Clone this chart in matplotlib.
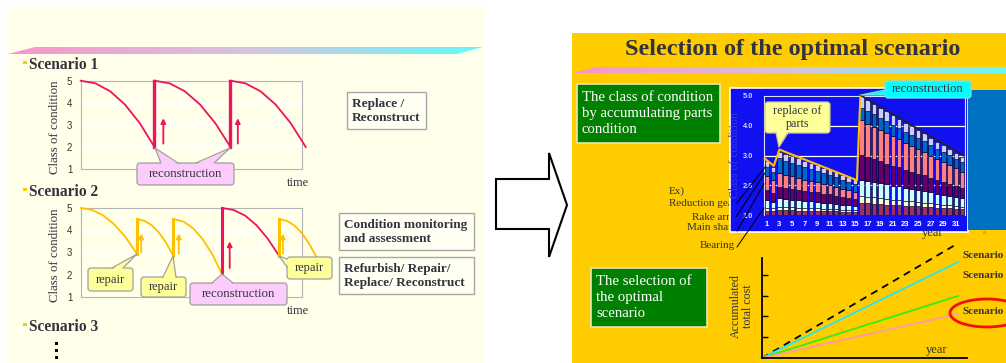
import matplotlib
matplotlib.use('Agg')
import matplotlib.pyplot as plt
import numpy as np
from matplotlib.patches import Rectangle, Polygon, FancyBboxPatch, Ellipse

W, H = 1006, 363
SERIF = ['Liberation Serif', 'DejaVu Serif']
SANS = ['Liberation Sans', 'DejaVu Sans']

# ---------------- data ----------------
# Scenario 1: class of condition over time, one list per deterioration cycle
s1_t1 = [0, 2, 4, 6, 8, 10]
s1_y1 = [5.0, 4.88, 4.52, 3.92, 3.08, 2.0]
s1_t2 = [10, 12.06, 14.12, 16.18, 18.24, 20.3]
s1_y2 = [5.0, 4.88, 4.52, 3.92, 3.08, 2.0]
s1_t3 = [20.3, 22.34, 24.38, 26.42, 28.46, 30.5]
s1_y3 = [5.0, 4.88, 4.52, 3.92, 3.08, 2.0]
s1_arrow_t = [11.2, 21.3]
s1_arrow_from = [2.15, 2.15]
s1_arrow_to = [3.3, 3.3]

# Scenario 2
s2_t1 = [0, 1.52, 3.04, 4.56, 6.08, 7.6]
s2_y1 = [5.0, 4.92, 4.67, 4.26, 3.69, 2.95]
s2_t2 = [7.6, 8.59, 9.58, 10.57, 11.56, 12.55]
s2_y2 = [4.5, 4.43, 4.24, 3.91, 3.45, 2.85]
s2_t3 = [12.55, 13.88, 15.21, 16.54, 17.87, 19.2]
s2_y3 = [4.5, 4.40, 4.10, 3.60, 2.90, 2.0]
s2_t4 = [19.2, 20.74, 22.28, 23.82, 25.36, 26.9]
s2_y4 = [5.0, 4.91, 4.66, 4.23, 3.62, 2.85]
s2_t5 = [26.9, 27.91, 28.92, 29.93, 30.94, 31.95]
s2_y5 = [4.5, 4.43, 4.23, 3.89, 3.41, 2.8]
s2_kind = ['repair', 'repair', 'repair', 'reconstruction', 'repair']
s2_arrow_t = [8.2, 13.3, 20.2, 27.4]
s2_arrow_from = [3.0, 2.95, 2.3, 2.95]
s2_arrow_to = [3.85, 3.85, 3.5, 3.85]
s2_arrow_kind = ['repair', 'repair', 'reconstruction', 'repair']

# Stacked parts condition per year (stack starts at class 1.0)
years = list(range(1, 33))
part_1 = [0.15, 0.14, 0.17, 0.16, 0.16, 0.15, 0.15, 0.14, 0.14, 0.13, 0.13, 0.12, 0.11, 0.11, 0.10,
          0.40, 0.39, 0.38, 0.36, 0.35, 0.34, 0.33, 0.31, 0.30, 0.29, 0.28, 0.26, 0.25, 0.24, 0.23, 0.21, 0.20]
part_2 = [0.10, 0.09, 0.11, 0.11, 0.10, 0.10, 0.09, 0.09, 0.09, 0.08, 0.08, 0.07, 0.07, 0.06, 0.06,
          0.23, 0.22, 0.21, 0.20, 0.19, 0.18, 0.17, 0.16, 0.16, 0.15, 0.14, 0.13, 0.12, 0.11, 0.10, 0.09, 0.08]
part_3 = [0.25, 0.22, 0.28, 0.27, 0.26, 0.25, 0.24, 0.23, 0.22, 0.21, 0.20, 0.19, 0.17, 0.16, 0.15,
          0.56, 0.54, 0.52, 0.51, 0.49, 0.47, 0.46, 0.44, 0.42, 0.40, 0.39, 0.37, 0.35, 0.33, 0.32, 0.30, 0.28]
part_4 = [0.35, 0.30, 0.39, 0.38, 0.36, 0.35, 0.33, 0.32, 0.31, 0.29, 0.28, 0.26, 0.25, 0.23, 0.22,
          0.82, 0.79, 0.76, 0.73, 0.70, 0.67, 0.64, 0.61, 0.58, 0.55, 0.52, 0.49, 0.46, 0.43, 0.40, 0.37, 0.34]
part_5 = [0.45, 0.42, 0.45, 0.43, 0.42, 0.40, 0.38, 0.37, 0.35, 0.33, 0.32, 0.30, 0.28, 0.27, 0.25,
          1.17, 1.13, 1.09, 1.06, 1.02, 0.98, 0.94, 0.90, 0.87, 0.83, 0.79, 0.75, 0.71, 0.68, 0.64, 0.60, 0.56]
part_6 = [0.30, 0.27, 0.50, 0.48, 0.46, 0.44, 0.42, 0.40, 0.38, 0.37, 0.35, 0.33, 0.31, 0.29, 0.27,
          0.43, 0.42, 0.42, 0.41, 0.40, 0.39, 0.39, 0.38, 0.37, 0.36, 0.36, 0.35, 0.34, 0.33, 0.33, 0.32, 0.31]
part_7 = [0.20, 0.16, 0.23, 0.22, 0.22, 0.21, 0.20, 0.20, 0.19, 0.18, 0.18, 0.17, 0.16, 0.16, 0.15,
          0.38, 0.37, 0.36, 0.34, 0.33, 0.32, 0.31, 0.30, 0.29, 0.27, 0.26, 0.25, 0.24, 0.23, 0.21, 0.20, 0.19]
bar_base = 1.0
env_parts_x = [0.65, 2.1, 3.0, 15.3, 15.85]
env_parts_y = [2.9, 2.65, 3.2, 2.17, 5.03]
env_recon_x = [15.85, 32.3]
env_recon_y = [5.03, 2.99]
part_names = ['Ex)', 'Reduction gear', 'Rake arm', 'Main shaft', 'Bearing']

# Accumulated total cost
cost_years = [0, 30]
cost_dashed = [0, 110]
cost_cyan = [0, 92]
cost_green = [0, 59.5]
cost_pink = [0, 42.2]

# ---------------- styles ----------------
RED = '#EE1260'
GOLD = '#FFC000'
PART_COLORS = ['#993366', '#FFFFCC', '#CCFFFF', '#660066', '#FF8080', '#0066CC', '#CCCCFF']
CREAM = '#FFFFEA'
ORANGE = '#FFCC00'
TXT = '#33333F'

fig = plt.figure(figsize=(W / 100, H / 100), dpi=100)
fig.patch.set_facecolor('white')


def px_axes(x0, y0, x1, y1, z):
    return fig.add_axes([x0 / W, 1 - y1 / H, (x1 - x0) / W, (y1 - y0) / H], zorder=z)


bg = fig.add_axes([0, 0, 1, 1], zorder=0)
bg.set_xlim(0, W); bg.set_ylim(H, 0); bg.axis('off'); bg.set_autoscale_on(False)
ov = fig.add_axes([0, 0, 1, 1], zorder=10)
ov.set_xlim(0, W); ov.set_ylim(H, 0); ov.axis('off'); ov.set_autoscale_on(False)
ov.patch.set_visible(False)

# panels
bg.add_patch(Rectangle((7, 7), 476, 356, fc=CREAM, ec='none', zorder=0))
bg.add_patch(Rectangle((572, 33), 434, 330, fc=ORANGE, ec='none', zorder=0))


def gradient_bar(ax, pts):
    xs = [p[0] for p in pts]; ys = [p[1] for p in pts]
    cols = np.array([[248, 150, 200], [215, 195, 225], [100, 250, 250]]) / 255.0
    t = np.linspace(0, 1, 300)
    img = np.stack([np.interp(t, [0, .5, 1], cols[:, i]) for i in range(3)], axis=-1)[None, :, :]
    im = ax.imshow(img, extent=(min(xs), max(xs), max(ys), min(ys)), aspect='auto', zorder=1,
                   interpolation='bilinear')
    poly = Polygon(pts, closed=True, fc='none', ec='none', transform=ax.transData)
    ax.add_patch(poly)
    im.set_clip_path(poly)


gradient_bar(bg, [(8, 54), (35, 47), (483, 47), (457, 54)])
gradient_bar(bg, [(573, 73), (597, 67), (1006, 67), (1006, 73)])

# big hollow arrow
bg.add_patch(Polygon([(496, 179), (549, 179), (549, 153), (567, 205), (549, 257), (549, 229), (496, 229)],
                     closed=True, fc='white', ec='black', lw=1.5, zorder=2))

# scenario headings
for y, lab in [(65, 'Scenario 1'), (192, 'Scenario 2'), (327, 'Scenario 3')]:
    bg.add_patch(Rectangle((23.3, y - 4.5), 3.5, 3.5, fc=ORANGE, ec='none', zorder=2))
    bg.text(29, y, lab, family=SERIF, weight='bold', fontsize=11.2, color=TXT, va='center', ha='left', zorder=3)
for y in [343, 350, 357]:
    bg.add_patch(Rectangle((55.5, y - 1.5), 3, 3, fc='black', ec='none', zorder=2))

# text boxes on the left
for (x0, y0, x1, y1, lab) in [(347, 92, 426, 129, 'Replace /\nReconstruct'),
                              (339, 213, 474, 250, 'Condition monitoring\nand assessment'),
                              (339, 257, 474, 294, 'Refurbish/ Repair/\nReplace/ Reconstruct')]:
    bg.add_patch(Rectangle((x0, y0), x1 - x0, y1 - y0, fc='#FFFFF4', ec='#A8A8A8', lw=1, zorder=2))
    bg.text(x0 + 5, (y0 + y1) / 2 + 0.5, lab, family=SERIF, weight='bold', fontsize=9.5, color=TXT,
            va='center', ha='left', linespacing=1.2, zorder=3)

# right panel title and green boxes
bg.text(793, 50, 'Selection of the optimal scenario', family=SERIF, weight='bold', fontsize=17.5,
        color=TXT, ha='center', va='center', zorder=3)
for (x0, y0, x1, y1, lab) in [(577, 84, 720, 143, 'The class of condition\nby accumulating parts\ncondition'),
                              (591, 268, 707, 327, 'The selection of\nthe optimal\nscenario')]:
    bg.add_patch(Rectangle((x0, y0), x1 - x0, y1 - y0, fc='#008000', ec='#E8E8B0', lw=1.2, zorder=2))
    bg.text(x0 + 5, (y0 + y1) / 2, lab, family=SERIF, fontsize=10.6, color='white',
            va='center', ha='left', linespacing=1.3, zorder=3)

# part labels (partly hidden behind the blue chart area)
for (x, y, ha), lab in zip([(669, 191, 'left'), (669, 203, 'left'), (735, 217, 'right'),
                            (735, 228, 'right'), (735, 245, 'right')], part_names):
    bg.text(x, y, lab, family=SERIF, fontsize=8, color=TXT, ha=ha, va='center', zorder=1)

# blue chart background
bg.add_patch(Rectangle((730, 88), 238, 144, fc='#1010F0', ec='white', lw=1.2, zorder=2))
bg.add_patch(Rectangle((968, 90), 40, 140, fc='#0070C0', ec='none', zorder=2))
bg.add_patch(Rectangle((983, 230.5), 3, 3, fc='#FF9900', ec='none', zorder=2))
bg.text(735.5, 155, 'Class of condition', family=SERIF, fontsize=8.5, color='#3838D8', rotation=90,
        ha='center', va='center', zorder=3)
bg.text(933, 233, 'year', family=SERIF, fontsize=9, color=TXT, ha='center', va='center', zorder=3)

# ---------------- scenario charts ----------------


def cond_axes(ax):
    ax.set_facecolor('none')
    ax.set_xlim(0, 30)
    ax.set_ylim(1, 5)
    ax.set_yticks([1, 2, 3, 4, 5])
    ax.set_xticks([])
    for y in [2, 3, 4]:
        ax.axhline(y, color='white', lw=1.5, zorder=0)
    for s in ax.spines.values():
        s.set_color('#B4B4B4'); s.set_linewidth(0.8)
    ax.tick_params(axis='y', length=0, pad=6, labelsize=7, labelcolor='#333333')
    for lab in ax.get_yticklabels():
        lab.set_family(SANS)


ax1 = px_axes(80.7, 80.7, 302, 169, 5)
cond_axes(ax1)
segs1 = [(s1_t1, s1_y1), (s1_t2, s1_y2), (s1_t3, s1_y3)]
for i, (t, y) in enumerate(segs1):
    ax1.plot(t, y, color=RED, lw=1.3, clip_on=False, zorder=3)
    if i > 0:
        pt, py = segs1[i - 1]
        ax1.plot([pt[-1], t[0]], [py[-1], y[0]], color=RED, lw=2.4, clip_on=False, zorder=3)
for t, a, b in zip(s1_arrow_t, s1_arrow_from, s1_arrow_to):
    ax1.annotate('', xy=(t, b), xytext=(t, a),
                 arrowprops=dict(arrowstyle='-|>', color=RED, lw=1.3, mutation_scale=7, shrinkA=0, shrinkB=0))

ax2 = px_axes(80.7, 208, 302, 297, 5)
cond_axes(ax2)
segs2 = [(s2_t1, s2_y1), (s2_t2, s2_y2), (s2_t3, s2_y3), (s2_t4, s2_y4), (s2_t5, s2_y5)]
for i, (t, y) in enumerate(segs2):
    c = RED if s2_kind[i] == 'reconstruction' else GOLD
    ax2.plot(t, y, color=c, lw=1.3, clip_on=False, zorder=3)
    if i > 0:
        pt, py = segs2[i - 1]
        ax2.plot([pt[-1], t[0]], [py[-1], y[0]], color=c, lw=2.2, clip_on=False, zorder=3)
for t, a, b, k in zip(s2_arrow_t, s2_arrow_from, s2_arrow_to, s2_arrow_kind):
    c = RED if k == 'reconstruction' else GOLD
    ax2.annotate('', xy=(t, b), xytext=(t, a),
                 arrowprops=dict(arrowstyle='-|>', color=c, lw=1.3, mutation_scale=7, shrinkA=0, shrinkB=0))

for y in [127.5, 255.5]:
    ov.text(55, y, 'Class of condition', family=SERIF, fontsize=9.3, color=TXT, rotation=90,
            ha='center', va='center')
for y in [183, 311]:
    ov.text(298, y, 'time', family=SERIF, fontsize=9, color=TXT, ha='center', va='center')

# ---------------- stacked bar chart ----------------
axb = px_axes(764, 96, 965, 215, 5)
axb.set_facecolor('none')
for y in [2, 3, 4]:
    axb.axhline(y, color='white', lw=0.9, zorder=0)
bottom = [bar_base] * len(years)
for vals, col in zip([part_1, part_2, part_3, part_4, part_5, part_6, part_7], PART_COLORS):
    axb.bar(years, vals, bottom=bottom, width=0.74, color=col, edgecolor='#000020', linewidth=0.4, zorder=2)
    bottom = [b + v for b, v in zip(bottom, vals)]
axb.plot(env_parts_x, env_parts_y, color=GOLD, lw=1.5, zorder=4, clip_on=False)
axb.plot(env_recon_x, env_recon_y, color='#202040', lw=1.3, zorder=4, clip_on=False)
axb.set_xlim(0.55, 32.45)
axb.set_ylim(1, 5)
axb.set_xticks(years[::2])
axb.set_xticklabels([str(y) for y in years[::2]])
axb.set_yticks([1, 2, 3, 4, 5])
axb.set_yticklabels(['%.1f' % v for v in [1, 2, 3, 4, 5]])
axb.tick_params(axis='x', length=0, pad=4, labelsize=5.5, labelcolor='white')
axb.tick_params(axis='y', length=0, pad=8, labelsize=5.3, labelcolor='#D8D8F0')
for lab in axb.get_xticklabels() + axb.get_yticklabels():
    lab.set_family(SANS); lab.set_weight('bold')
for s in axb.spines.values():
    s.set_color('#E0E0FF'); s.set_linewidth(0.8)
axb.spines['bottom'].set_visible(False)

# leader lines from part labels
for (xa, ya, xb, yb) in [(737, 203, 766, 166), (736, 217, 765, 173), (737, 231, 764, 184), (737, 247, 764, 208)]:
    ov.plot([xa, xb], [ya, yb], color='black', lw=0.7)

# ---------------- cost chart ----------------
axc = px_axes(762, 258, 967, 358, 5)
axc.set_facecolor('none')
axc.plot(cost_years, cost_dashed, color='black', lw=1.3, ls=(0, (4, 3)), clip_on=False)
axc.plot(cost_years, cost_cyan, color='#22E8F0', lw=1.3, clip_on=False)
axc.plot(cost_years, cost_green, color='#33EE11', lw=1.3, clip_on=False)
axc.plot(cost_years, cost_pink, color='#FF9AAA', lw=1.3, clip_on=False)
axc.set_xlim(0, 31.4)
axc.set_ylim(0, 96)
axc.set_xticks([])
axc.set_yticks([20, 40, 60, 80])
axc.set_yticklabels([])
axc.tick_params(axis='y', direction='in', length=4, width=1, color='black')
for k in ['top', 'right']:
    axc.spines[k].set_visible(False)
for k in ['left', 'bottom']:
    axc.spines[k].set_color('black'); axc.spines[k].set_linewidth(1.3)

ov.text(742, 306, 'Accumulated\ntotal cost', family=SERIF, fontsize=8.6, color=TXT, rotation=90,
        ha='center', va='center', linespacing=1.1)
ov.text(937, 350, 'year', family=SERIF, fontsize=9, color=TXT, ha='center', va='center')
for y in [255, 276, 312]:
    ov.text(962, y, 'Scenario', family=SERIF, weight='bold', fontsize=8, color=TXT, ha='left', va='center')
ov.add_patch(Ellipse((987, 313), 74, 28, fc='none', ec='#EE1111', lw=2))

# ---------------- callouts ----------------


def callout(x0, y0, x1, y1, text, fc, ec, wedges, fs):
    ov.add_patch(FancyBboxPatch((x0, y0), x1 - x0, y1 - y0, boxstyle='round,pad=0,rounding_size=3',
                                fc=fc, ec=ec, lw=0.9, zorder=5))
    for tip, b1, b2, inset in wedges:
        f1 = (b1[0] + inset[0], b1[1] + inset[1]); f2 = (b2[0] + inset[0], b2[1] + inset[1])
        ov.add_patch(Polygon([f1, tip, f2], closed=True, fc=fc, ec='none', zorder=6))
        ov.plot([b1[0], tip[0], b2[0]], [b1[1], tip[1], b2[1]], color=ec, lw=0.9, zorder=7)
    ov.text((x0 + x1) / 2, (y0 + y1) / 2, text, family=SERIF, fontsize=fs, color=TXT,
            ha='center', va='center', linespacing=1.1, zorder=8)


PINK = '#FCCCFC'
YEL = '#FFFF99'
DOWN = (0, 1.5)
callout(137, 163, 234, 185, 'reconstruction', PINK, '#A0A0A0',
        [((155, 148), (161, 163), (178, 163), DOWN), ((230, 148), (196, 163), (214, 163), DOWN)], 9.3)
callout(88, 268, 133, 291, 'repair', YEL, '#A0A0A0', [((137, 254), (112, 268), (123, 268), DOWN)], 9)
callout(141, 277, 186, 297, 'repair', YEL, '#A0A0A0', [((173, 256), (163, 277), (176, 277), DOWN)], 9)
callout(190, 283, 287, 305, 'reconstruction', PINK, '#A0A0A0', [((222, 274), (212, 283), (233, 283), DOWN)], 9.3)
callout(287, 257, 332, 279, 'repair', YEL, '#A0A0A0', [((279, 256), (287, 259), (287, 267), (1.5, 0))], 9)
callout(765, 102, 830, 133, 'replace of\nparts', YEL, '#C8C890', [((779, 147), (776, 133), (788, 133), (0, -1.5))], 8.7)
callout(885, 81, 971, 98, 'reconstruction', '#00FFFF', '#80E0E0', [((861, 95), (885, 90), (885, 95), (1.5, 0))], 9)

fig.savefig('out.png', dpi=100, facecolor='white')
